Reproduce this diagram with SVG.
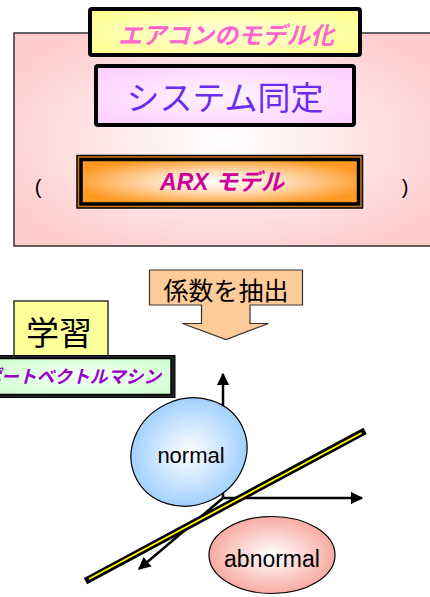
<svg xmlns="http://www.w3.org/2000/svg" width="430" height="597" viewBox="0 0 430 597">
<defs>
  <radialGradient id="gPink" cx="0.5" cy="0.5" r="0.6">
    <stop offset="0" stop-color="#ffffff"/>
    <stop offset="0.5" stop-color="#ffe6e6"/>
    <stop offset="1" stop-color="#ffcccc"/>
  </radialGradient>
  <radialGradient id="gYellow" cx="0.5" cy="0.5" r="0.7">
    <stop offset="0" stop-color="#ffffdd"/>
    <stop offset="1" stop-color="#ffff88"/>
  </radialGradient>
  <radialGradient id="gViolet" cx="0.5" cy="0.5" r="0.7">
    <stop offset="0" stop-color="#fff4ff"/>
    <stop offset="1" stop-color="#ffccff"/>
  </radialGradient>
  <radialGradient id="gOrange" cx="0.5" cy="0.5" r="0.55">
    <stop offset="0" stop-color="#ffffff"/>
    <stop offset="0.4" stop-color="#ffe0c0"/>
    <stop offset="1" stop-color="#ff9922"/>
  </radialGradient>
  <radialGradient id="gGreen" cx="0.5" cy="0.5" r="0.7">
    <stop offset="0" stop-color="#f6fff6"/>
    <stop offset="1" stop-color="#ccffcc"/>
  </radialGradient>
  <radialGradient id="gBlue" cx="0.5" cy="0.5" r="0.55">
    <stop offset="0" stop-color="#ffffff"/>
    <stop offset="1" stop-color="#99ccff"/>
  </radialGradient>
  <radialGradient id="gSalmon" cx="0.5" cy="0.5" r="0.55">
    <stop offset="0" stop-color="#ffffff"/>
    <stop offset="1" stop-color="#f6a39a"/>
  </radialGradient>
  <marker id="arr" viewBox="0 0 10 10" refX="9" refY="5" markerWidth="5" markerHeight="5" orient="auto" markerUnits="strokeWidth">
    <path d="M0,0 L10,5 L0,10 z" fill="#000"/>
  </marker>
  <style>
    .jp { font-family: "Liberation Sans", "Noto Sans CJK JP", sans-serif; }
    .lat { font-family: "Liberation Sans", Arial, sans-serif; }
    .axis { stroke: #000; stroke-width: 2.5; fill: none; marker-end: url(#arr); }
  </style>
</defs>

<rect width="430" height="597" fill="#ffffff"/>

<g id="model-panel">
  <rect x="14" y="33" width="422" height="213" fill="url(#gPink)" stroke="#333" stroke-width="1.5"/>
  <text class="jp" x="38" y="194" font-size="20" text-anchor="middle" fill="#000">(</text>
  <text class="jp" x="405" y="194" font-size="20" text-anchor="middle" fill="#000">)</text>
</g>

<g id="title">
  <rect x="90" y="9" width="270" height="46" rx="2" fill="url(#gYellow)" stroke="#000" stroke-width="4"/>
  <text class="jp" x="226" y="44" font-size="24" font-weight="bold" font-style="italic" text-anchor="middle" fill="#ff66cc">エアコンのモデル化</text>
</g>

<g id="system-id">
  <rect x="96" y="66" width="258" height="59" rx="2" fill="url(#gViolet)" stroke="#000" stroke-width="4"/>
  <text class="jp" x="225" y="110" font-size="33" text-anchor="middle" fill="#6a2cf0">システム同定</text>
</g>

<g id="arx">
  <rect x="77" y="155.5" width="285.5" height="52.5" fill="#d07820" stroke="#000" stroke-width="1.5"/>
  <rect x="81" y="159.5" width="277.5" height="44.5" fill="url(#gOrange)" stroke="#000" stroke-width="3.5"/>
  <text class="jp" x="222" y="190" font-size="23" font-weight="bold" font-style="italic" text-anchor="middle" fill="#cc0099">ARX モデル</text>
</g>

<g id="extract">
  <path d="M149.5,270 H302.5 V305 H250 V323.5 H268.5 L226,339.5 L182.5,323.5 H201.5 V305 H149.5 Z" fill="#ffcc99" stroke="#333" stroke-width="1.2"/>
  <text class="jp" x="226" y="300" font-size="25" text-anchor="middle" fill="#000">係数を抽出</text>
</g>

<g id="learning">
  <rect x="14" y="301" width="94" height="55" fill="#ffff99" stroke="#333" stroke-width="1.5"/>
  <text class="jp" x="59" y="345" font-size="33" text-anchor="middle" fill="#000">学習</text>
</g>

<g id="svm">
  <rect x="-10" y="355.5" width="185" height="42" fill="#222" stroke="#000" stroke-width="1"/>
  <rect x="-8" y="358.5" width="179" height="36" fill="url(#gGreen)" stroke="#000" stroke-width="1.5"/>
  <text class="jp" x="161" y="383" font-size="17.8" font-weight="bold" font-style="italic" text-anchor="end" fill="#9900cc">サポートベクトルマシン</text>
</g>

<g id="axes">
  <line class="axis" x1="223" y1="498" x2="223" y2="374"/>
  <line class="axis" x1="223" y1="498" x2="362" y2="498"/>
  <line class="axis" x1="223" y1="498" x2="139" y2="569"/>
</g>

<g id="normal">
  <ellipse cx="189" cy="452" rx="59" ry="53" transform="rotate(-25 189 452)" fill="url(#gBlue)" stroke="#000" stroke-width="1.2"/>
  <text class="lat" x="191" y="463" font-size="22" text-anchor="middle" fill="#000">normal</text>
</g>

<g id="abnormal">
  <ellipse cx="272" cy="555" rx="63" ry="38.5" fill="url(#gSalmon)" stroke="#000" stroke-width="1.2"/>
  <text class="lat" x="272" y="567" font-size="23" text-anchor="middle" fill="#000">abnormal</text>
</g>

<g id="separator">
  <line x1="88.5" y1="579.5" x2="362" y2="432.5" stroke="#000" stroke-width="7" stroke-linecap="square"/>
  <line x1="89" y1="579" x2="361.5" y2="433" stroke="#ffff00" stroke-width="1.8"/>
</g>
</svg>
